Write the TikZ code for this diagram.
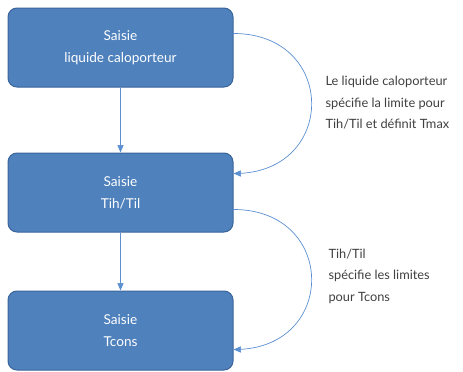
\documentclass[tikz,border=0pt]{standalone}
\usepackage{fontspec}
\setmainfont{Lato}
\usepackage{xcolor}
\usetikzlibrary{arrows,shapes,positioning}
\definecolor{boxblue}{HTML}{4F81BD}
\definecolor{boxedge}{HTML}{3A649A}
\definecolor{linkblue}{HTML}{5B8FD0}
\definecolor{notegray}{HTML}{404040}

\begin{document}
\begin{tikzpicture}[x=1pt,y=-1pt,
  stage/.style={rectangle,rounded corners=9pt,fill=boxblue,draw=boxedge,line width=1pt,
    minimum width=225pt,minimum height=79pt,text=white,align=center,
    font=\fontsize{13.6}{22}\selectfont},
  link/.style={draw=linkblue,line width=0.7pt,-triangle 45},
  note/.style={anchor=west,align=left,text=notegray,font=\fontsize{12.8}{21.5}\selectfont}]
  \useasboundingbox (0,0) rectangle (463,372);
  % stages
  \node[stage] (s1) at (120.5,47.5) {Saisie\\liquide caloporteur};
  \node[stage,below=65pt of s1] (s2) {Saisie\\Tih/Til};
  \node[stage,below=58pt of s2] (s3) {Saisie\\Tcons};
  \draw[link] (s1) -- (s2);
  \draw[link] (s2) -- (s3);
  % dependencies
  \draw[link] ([yshift=14pt]s1.east) .. controls +(104pt,0) and +(104pt,0) .. ([yshift=19pt]s2.east);
  \draw[link] ([yshift=-17pt]s2.east) .. controls +(104pt,0) and +(104pt,0) .. ([yshift=-19pt]s3.east);
  \node[note] (n1) at (322,103) {Le liquide caloporteur\\spécifie la limite pour\\Tih/Til et définit Tmax};
  \node[note] (n2) at (325,276) {Tih/Til\\spécifie les limites\\pour Tcons};
\end{tikzpicture}
\end{document}
